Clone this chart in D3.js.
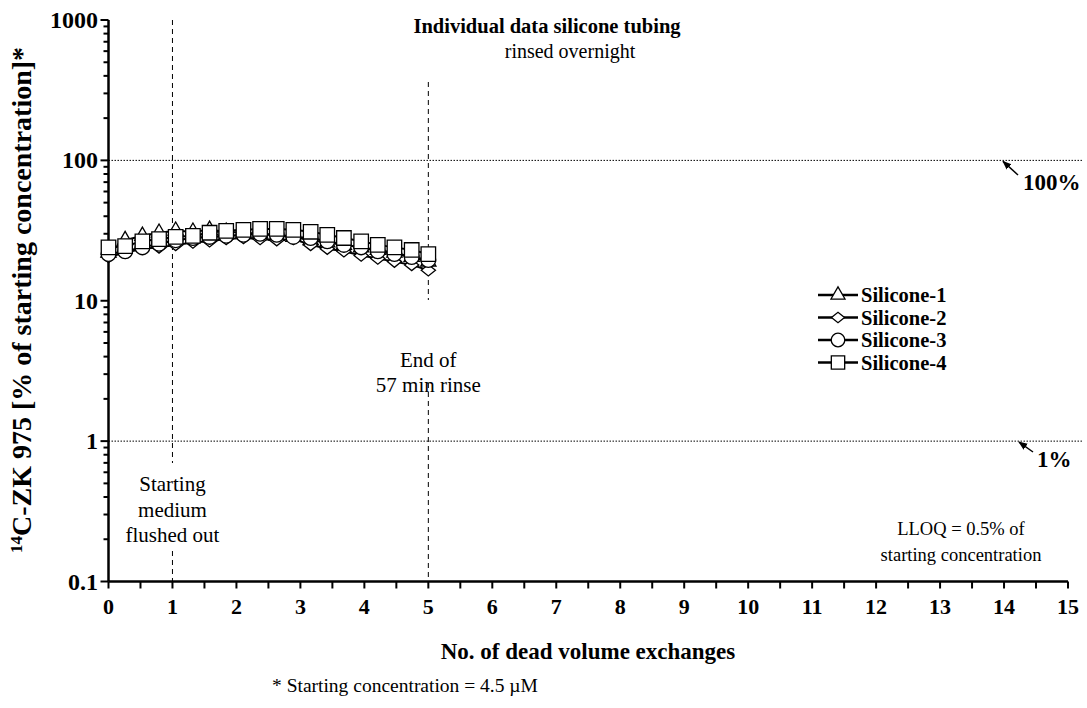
<!DOCTYPE html>
<html>
<head>
<meta charset="utf-8">
<script src="https://cdn.jsdelivr.net/npm/d3@7"></script>
<style>
  html, body { margin: 0; padding: 0; background: #fff; }
  svg { display: block; }
  text { font-family: "Liberation Serif", "Times New Roman", serif; fill: #000; }
</style>
</head>
<body>
<svg id="chart" width="1087" height="708"></svg>
<script>
// Dead volume exchanges at each sample (every 3 min over a 57 min rinse)
const exchanges = [0, 0.26, 0.53, 0.79, 1.05, 1.32, 1.58, 1.84, 2.11, 2.37,
                   2.63, 2.89, 3.16, 3.42, 3.68, 3.95, 4.21, 4.47, 4.74, 5.0];

// Concentration in effluent, % of starting concentration
const silicone1 = [22, 27, 29, 30.5, 31.5, 31, 32, 31, 30.5, 30, 29, 28.5, 27, 26, 25, 24, 23, 22, 20.5, 19];
const silicone2 = [20.5, 22, 23.5, 24, 25, 26, 26.5, 27.5, 28, 27.5, 27, 27.5, 25, 23.5, 22.5, 21, 20, 19, 18, 16.5];
const silicone3 = [21.5, 22.5, 24, 25.5, 27, 28, 28.5, 29, 29.5, 30, 29.5, 28.5, 28, 26.5, 25, 24, 22.5, 21.5, 20.5, 19.5];
const silicone4 = [24, 24.5, 26.5, 27.5, 28.5, 29, 30.5, 31.5, 32, 32.5, 32.5, 32, 31, 29.5, 28, 26.5, 25, 24, 23, 21.5];

const seriesNames = ["Silicone-1", "Silicone-2", "Silicone-3", "Silicone-4"];
const seriesValues = [silicone1, silicone2, silicone3, silicone4];

const xTickValues = d3.range(0, 16, 1);
const yTickValues = [0.1, 1, 10, 100, 1000];

// Marker shapes: open triangle, flat diamond, circle, square
const flatDiamond = {
  draw(ctx, size) {
    const w = Math.sqrt(size) * 0.58, h = w * 0.8;
    ctx.moveTo(-w, 0); ctx.lineTo(0, -h); ctx.lineTo(w, 0); ctx.lineTo(0, h); ctx.closePath();
  }
};
const seriesSymbols = [d3.symbolTriangle, flatDiamond, d3.symbolCircle, d3.symbolSquare];
const symbolSizes = [100, 150, 170, 210];

const svg = d3.select("#chart");
const plotLeft = 108.5, plotRight = 1068, plotTop = 20, plotBottom = 581.5;

const x = d3.scaleLinear().domain([0, 15]).range([plotLeft, plotRight]);
const y = d3.scaleLog().domain([0.1, 1000]).range([plotBottom, plotTop]);

// Reference lines at 100% and 1%
[100, 1].forEach(v => {
  svg.append("line")
    .attr("x1", plotLeft).attr("x2", 1083)
    .attr("y1", y(v)).attr("y2", y(v))
    .attr("stroke", "#000").attr("stroke-width", 1)
    .attr("stroke-dasharray", "1.5,1.5");
});

// Vertical dashed markers with gaps for their captions
const vDash = (xv, y1, y2) => svg.append("line")
  .attr("x1", x(xv)).attr("x2", x(xv))
  .attr("y1", y1).attr("y2", y2)
  .attr("stroke", "#000").attr("stroke-width", 1)
  .attr("stroke-dasharray", "5,4");
vDash(1, plotTop, 463);
vDash(1, 551, plotBottom);
vDash(5, 82, 300);
vDash(5, 383, plotBottom);

// X axis
const xAxis = svg.append("g").attr("transform", `translate(0,${plotBottom})`);
xAxis.append("line").attr("x1", plotLeft).attr("x2", plotRight)
  .attr("stroke", "#000").attr("stroke-width", 2.5);
d3.range(0, 15.01, 0.5).forEach(v => {
  xAxis.append("line").attr("x1", x(v)).attr("x2", x(v))
    .attr("y1", 0).attr("y2", 7).attr("stroke", "#000").attr("stroke-width", 2);
});
xAxis.selectAll("text.xt").data(xTickValues).enter().append("text")
  .attr("x", d => x(d)).attr("y", 32)
  .attr("text-anchor", "middle")
  .attr("font-weight", "bold").attr("font-size", 22)
  .text(d => d);

// Y axis (log)
const yAxis = svg.append("g");
yAxis.append("line").attr("x1", plotLeft).attr("x2", plotLeft)
  .attr("y1", plotTop).attr("y2", plotBottom)
  .attr("stroke", "#000").attr("stroke-width", 2.5);
const minorTicks = [];
[0.1, 1, 10, 100].forEach(d => { for (let k = 2; k <= 9; k++) minorTicks.push(d * k); });
minorTicks.forEach(v => {
  yAxis.append("line").attr("x1", plotLeft - 5).attr("x2", plotLeft)
    .attr("y1", y(v)).attr("y2", y(v)).attr("stroke", "#000").attr("stroke-width", 2);
});
yTickValues.forEach(v => {
  yAxis.append("line").attr("x1", plotLeft - 8).attr("x2", plotLeft)
    .attr("y1", y(v)).attr("y2", y(v)).attr("stroke", "#000").attr("stroke-width", 2);
});
yAxis.selectAll("text.yt").data(yTickValues).enter().append("text")
  .attr("x", 98).attr("y", d => y(d) + 8)
  .attr("text-anchor", "end")
  .attr("font-weight", "bold").attr("font-size", 24)
  .text(d => d);

// Series lines and markers
const line = d3.line().x((d, i) => x(exchanges[i])).y(d => y(d));
seriesValues.forEach(vals => {
  svg.append("path").datum(vals)
    .attr("d", line).attr("fill", "none")
    .attr("stroke", "#000").attr("stroke-width", 2);
});
seriesValues.forEach((vals, s) => {
  const sym = d3.symbol().type(seriesSymbols[s]).size(symbolSizes[s]);
  svg.append("g").selectAll("path").data(vals).enter().append("path")
    .attr("d", sym)
    .attr("transform", (d, i) => `translate(${x(exchanges[i])},${y(d)})`)
    .attr("fill", "#fff").attr("stroke", "#000").attr("stroke-width", 1.3);
});

// Legend
const legend = svg.append("g").attr("transform", "translate(818,295)");
seriesNames.forEach((name, s) => {
  const g = legend.append("g").attr("transform", `translate(0,${s * 22.5})`);
  g.append("line").attr("x1", 0).attr("x2", 40).attr("y1", 0).attr("y2", 0)
    .attr("stroke", "#000").attr("stroke-width", 2.5);
  g.append("path").attr("d", d3.symbol().type(seriesSymbols[s]).size(symbolSizes[s] * 0.85)())
    .attr("transform", "translate(20,0)")
    .attr("fill", "#fff").attr("stroke", "#000").attr("stroke-width", 1.3);
  g.append("text").attr("x", 43).attr("y", 7)
    .attr("font-weight", "bold").attr("font-size", 20.5).text(name);
});

// Title
svg.append("text").attr("x", 547).attr("y", 33)
  .attr("text-anchor", "middle").attr("font-weight", "bold").attr("font-size", 20.5)
  .text("Individual data silicone tubing");
svg.append("text").attr("x", 570).attr("y", 58)
  .attr("text-anchor", "middle").attr("font-size", 20)
  .text("rinsed overnight");

// Captions
const caption = (lines, cx, y0, lh, fs) => lines.forEach((t, i) => {
  svg.append("text").attr("x", cx).attr("y", y0 + i * lh)
    .attr("text-anchor", "middle").attr("font-size", fs).text(t);
});
caption(["Starting", "medium", "flushed out"], x(1), 491, 25.5, 21);
caption(["End of", "57 min rinse"], x(5), 367, 25, 21);
caption(["LLOQ = 0.5% of", "starting concentration"], 961, 535, 26, 18.5);

// Reference line labels with arrows
svg.append("defs").append("marker")
  .attr("id", "arrowhead").attr("viewBox", "0 0 10 10")
  .attr("refX", 9).attr("refY", 5)
  .attr("markerWidth", 6).attr("markerHeight", 6)
  .attr("orient", "auto")
  .append("path").attr("d", "M0,1 L10,5 L0,9 Z").attr("fill", "#000");
svg.append("line").attr("x1", 1018).attr("y1", 175).attr("x2", 1003).attr("y2", y(100) + 1)
  .attr("stroke", "#000").attr("stroke-width", 1.5).attr("marker-end", "url(#arrowhead)");
svg.append("text").attr("x", 1023).attr("y", 190)
  .attr("font-weight", "bold").attr("font-size", 23).text("100%");
svg.append("line").attr("x1", 1033).attr("y1", 452).attr("x2", 1019).attr("y2", y(1) + 1)
  .attr("stroke", "#000").attr("stroke-width", 1.5).attr("marker-end", "url(#arrowhead)");
svg.append("text").attr("x", 1037).attr("y", 467)
  .attr("font-weight", "bold").attr("font-size", 23).text("1%");

// Axis titles
svg.append("text").attr("x", 588).attr("y", 659)
  .attr("text-anchor", "middle").attr("font-weight", "bold").attr("font-size", 23)
  .text("No. of dead volume exchanges");
const yl = svg.append("text")
  .attr("transform", "translate(31,300) rotate(-90)")
  .attr("text-anchor", "middle").attr("font-weight", "bold").attr("font-size", 28);
yl.append("tspan").attr("font-size", 17).attr("dy", -9).text("14");
yl.append("tspan").attr("dy", 9).text("C-ZK 975 [% of starting concentration]*");

// Footnote
svg.append("text").attr("x", 272).attr("y", 692)
  .attr("font-size", 19.5).text("* Starting concentration = 4.5 µM");
</script>
</body>
</html>
